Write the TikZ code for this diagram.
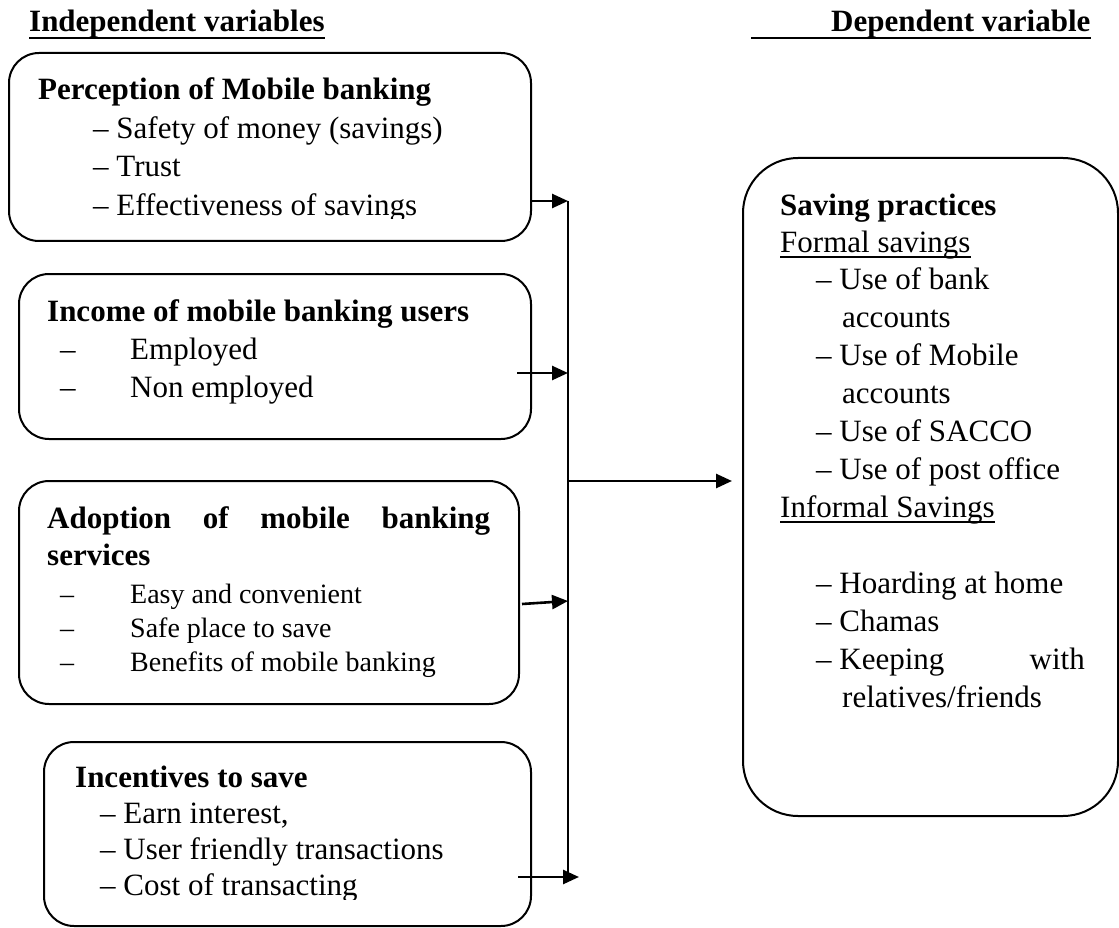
\documentclass[tikz,border=0pt]{standalone}
\usepackage{fontspec}
\setmainfont{Liberation Serif}
\usetikzlibrary{arrows.meta}
\begin{document}
\begin{tikzpicture}[x=1pt,y=-1pt,
  box/.style={draw, line width=2pt, rounded corners=30pt, anchor=north west, inner sep=0pt},
  txt/.style={anchor=base west, inner sep=0pt, font=\fontsize{31}{37}\selectfont},
  btxt/.style={anchor=base west, inner sep=0pt, font=\fontsize{31}{37}\selectfont\bfseries},
  stxt/.style={anchor=base west, inner sep=0pt, font=\fontsize{28}{34}\selectfont},
  arr/.style={line width=2.6pt, -{Triangle[length=16pt,width=14pt]}},
  bus/.style={line width=2pt},
  hline/.style={line width=2.6pt},
  uline/.style={line width=1.6pt}]
\useasboundingbox (0,0) rectangle (1119,928);

% headers
\node[btxt] (h1) at (29,32) {Independent variables};
\draw[hline] ([yshift=-6pt]h1.base west) -- ([yshift=-6pt]h1.base east);
\node[btxt] (h2) at (751,32) {\hspace*{80pt}Dependent variable};
\draw[hline] ([yshift=-6pt]h2.base west) -- ([yshift=-6pt]h2.base east);

% boxes
\node[box, minimum width=522pt, minimum height=188pt] (b1) at (8,52) {};
\node[box, minimum width=512pt, minimum height=165pt] (b2) at (18,273) {};
\node[box, minimum width=500pt, minimum height=223pt] (b3) at (18,480) {};
\node[box, minimum width=487pt, minimum height=184pt] (b4) at (43,741) {};
\node[box, rounded corners=55pt, minimum width=375pt, minimum height=658pt] (rb) at (742,157) {};

% box 1 text
\node[btxt] (t1) at (38,100) {Perception of Mobile banking};
\node[txt] (t1a) at (93,139) {– Safety of money (savings)};
\node[txt] (t1b) at (93,177) {– Trust};
\begin{scope}
\clip (0,0) rectangle (1119,219);
\node[txt] (t1c) at (93,215) {– Effectiveness of savings};
\end{scope}

% box 2 text
\node[btxt] (t2) at (47,321) {Income of mobile banking users};
\node[txt] (t2a) at (60,359) {–};
\node[txt] (t2b) at (130,359) {Employed};
\node[txt] (t2c) at (60,397) {–};
\node[txt] (t2d) at (130,397) {Non employed};

% box 3 text
\node[btxt] (t3) at (47,528) {\makebox[443pt][s]{Adoption of mobile banking}};
\node[btxt] (t3s) at (47,565) {services};
\node[stxt] (t3a) at (60,603) {–};
\node[stxt] (t3b) at (130,603) {Easy and convenient};
\node[stxt] (t3c) at (60,637) {–};
\node[stxt] (t3d) at (130,637) {Safe place to save};
\node[stxt] (t3e) at (60,671) {–};
\node[stxt] (t3f) at (130,671) {Benefits of mobile banking};

% box 4 text
\node[btxt] (t4) at (75,787) {Incentives to save};
\node[txt] (t4a) at (100,823) {– Earn interest,};
\node[txt] (t4b) at (100,859) {– User friendly transactions};
\begin{scope}
\clip (0,0) rectangle (1119,899);
\node[txt] (t4c) at (100,895) {– Cost of transacting};
\end{scope}

% right box text
\node[btxt] (r1) at (780,216) {Saving practices};
\node[txt] (r2) at (780,252) {Formal savings};
\draw[uline] ([yshift=-5pt]r2.base west) -- ([yshift=-5pt]r2.base east);
\node[txt] (r3) at (816,289) {– Use of bank};
\node[txt] (r4) at (842,327) {accounts};
\node[txt] (r5) at (816,365) {– Use of Mobile};
\node[txt] (r6) at (842,403) {accounts};
\node[txt] (r7) at (816,441) {– Use of SACCO};
\node[txt] (r8) at (816,479) {– Use of post office};
\node[txt] (r9) at (780,517) {Informal Savings};
\draw[uline] ([yshift=-5pt]r9.base west) -- ([yshift=-5pt]r9.base east);
\node[txt] (r10) at (816,593) {– Hoarding at home};
\node[txt] (r11) at (816,631) {– Chamas};
\node[txt] (r12) at (816,669) {– Keeping};
\node[txt, anchor=base east] (r12b) at (1085,669) {with};
\node[txt] (r13) at (842,707) {relatives/friends};

% connectors
\coordinate (bt) at (568,201);
\coordinate (bb) at (568,877);
\coordinate (s2) at (517,373);
\coordinate (s3) at (522,604);
\coordinate (e3) at (568,601);
\coordinate (s4) at (518,877);
\coordinate (e4) at (579,877);
\coordinate (m) at (568,481);
\draw[bus] (bt) -- (bb);
\draw[arr] (b1.east |- bt) -- (bt);
\draw[arr] (s2) -- (s2 -| bt);
\draw[arr] (s3) -- (e3);
\draw[arr] (s4) -- (e4);
\draw[arr] (m) -- ([xshift=-10pt]m -| rb.west);
\end{tikzpicture}
\end{document}
